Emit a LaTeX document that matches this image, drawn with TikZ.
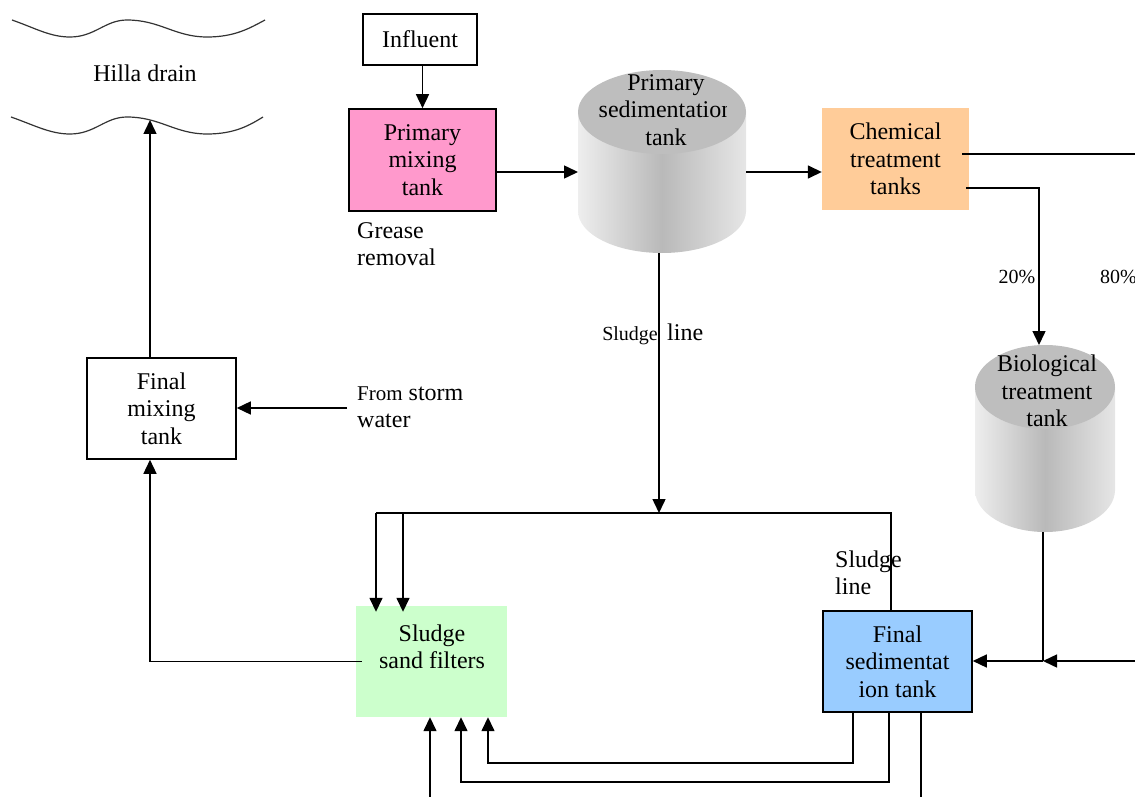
\documentclass[tikz,border=0pt]{standalone}
\usepackage{fontspec}
\setmainfont{Liberation Serif}
\usetikzlibrary{arrows.meta}
\definecolor{pinkfill}{HTML}{FF99CC}
\definecolor{orangefill}{HTML}{FFCC99}
\definecolor{greenfill}{HTML}{CCFFCC}
\definecolor{bluefill}{HTML}{99CCFF}
\definecolor{cyltop}{HTML}{BEBEBE}
\definecolor{cylL}{HTML}{EEEEEE}
\definecolor{cylM}{HTML}{B9B9B9}
\definecolor{cylR}{HTML}{E6E6E6}
\tikzset{
  every node/.style={font=\fontsize{24}{27.5}\selectfont, inner sep=0pt, align=center, text=black},
  boxed/.style={draw=black, line width=1.6pt, rectangle},
  plainbox/.style={rectangle},
  conn/.style={draw=black, line width=1.5pt},
  arr/.style={conn, -{Triangle[length=14pt,width=13pt]}},
  wave/.style={draw=black!80, line width=1.2pt},
  small/.style={font=\fontsize{20}{24}\selectfont},
  cylside/.style={left color=cylL, right color=cylR, middle color=cylM},
}
\begin{document}
\begin{tikzpicture}[x=1pt,y=-1pt]
\useasboundingbox (0,0) rectangle (1135,797);

% Hilla drain
\draw[wave] (12,20) .. controls (35,28) and (50,37) .. (70,37) .. controls (95,37) and (105,20) .. (127,20) .. controls (160,20) and (175,37) .. (207,37) .. controls (235,37) and (250,28) .. (265,20);
\draw[wave] (11,117) .. controls (34,125) and (50,134) .. (70,134) .. controls (95,134) and (105,117) .. (127,117) .. controls (160,117) and (175,134) .. (207,134) .. controls (235,134) and (250,125) .. (263,117);
\node (drainlabel) at (145,73) {Hilla drain};
\coordinate (drain) at (150,120);

% Boxes
\node[boxed, minimum width=114, minimum height=51] (influent) at (420,39.5) {Influent};
\node[boxed, fill=pinkfill, minimum width=147, minimum height=102] (pmix) at (422.5,160) {Primary\\mixing\\tank};
\node[plainbox, fill=orangefill, minimum width=147, minimum height=102] (chem) at (895.5,159) {Chemical\\treatment\\tanks};
\node[boxed, minimum width=149, minimum height=101] (fmix) at (161.5,408.5) {Final\\mixing\\tank};
\node[plainbox, fill=greenfill, minimum width=151, minimum height=111] (sand) at (431.5,661.5) {};
\node (sandtxt) at (432,647) {Sludge\\sand filters};
\node[boxed, fill=bluefill, minimum width=149, minimum height=101] (fsed) at (897.5,661.5) {Final\\sedimentat\\ion tank};

% Primary sedimentation tank (cylinder)
\shade[cylside] (578,112) rectangle (746,211);
\shade[cylside] (662,211) ellipse [x radius=84, y radius=42];
\fill[cyltop] (662,112) ellipse [x radius=84, y radius=42];
\begin{scope}
\clip (570,60) rectangle (726,165);
\node (psed) at (666,110) {Primary\\sedimentation\\tank};
\end{scope}
\coordinate (psedL) at (578,172);
\coordinate (psedR) at (746,172);
\coordinate (psedB) at (659,253);

% Biological treatment tank (cylinder)
\shade[cylside] (975,387) rectangle (1115,490);
\shade[cylside] (1045,490) ellipse [x radius=70, y radius=42];
\fill[cyltop] (1045,387) ellipse [x radius=70, y radius=42];
\node (bio) at (1047,391) {Biological\\treatment\\tank};
\coordinate (bioT) at (1039,345);
\coordinate (bioB) at (1043,532);

% Text labels
\node[anchor=west, align=left] (grease) at (357,244) {Grease\\removal};
\node[anchor=west, align=left] (storm) at (357,407) {{\fontsize{21}{27.5}\selectfont From} storm\\water};
\node[anchor=west, align=left] (sludgelbl) at (835,573) {Sludge\\line};
\node[small, anchor=base east] (sl1) at (658,340) {Sludge};
\node[anchor=base west] (sl2) at (667,340) {line};
\node[small] (p20) at (1017,277) {20\%};
\node[small, anchor=west] (p80) at (1100,277) {80\%};

% Connectors
\draw[arr] (pmix.north |- influent.south) -- (pmix.north);
\draw[arr] (pmix.east |- psedL) -- (psedL);
\draw[arr] (psedR) -- (chem.west |- psedR);
\coordinate (eR1) at (1135,154);
\draw[conn] ([xshift=-7pt]chem.east |- eR1) -- (eR1);
\draw[arr] ([xshift=-3pt,yshift=-29pt]chem.east) -| (bioT);

\coordinate (split) at (659,513);
\draw[arr] (psedB) -- (split);
\coordinate (tl1) at (376,513);
\coordinate (tl2) at (403,513);
\coordinate (tr) at (891,513);
\draw[conn] (fsed.north -| tr) -- (tr) -- (tl1);
\draw[arr] (tl1) -- ([yshift=-6pt]sand.north -| tl1);
\draw[arr] (tl2) -- ([yshift=-6pt]sand.north -| tl2);

\draw[arr] ([xshift=6pt]sand.west) -| ([xshift=-11.5pt]fmix.south);
\draw[arr] ([xshift=-11.5pt]fmix.north) -- (drain);
\coordinate (stormend) at (347,408);
\draw[arr] (stormend) -- (fmix.east |- stormend);

\coordinate (join) at (1043,661);
\coordinate (eR2) at (1135,661);
\draw[conn] (bioB) -- (join);
\draw[arr] (join) -- (fsed.east |- join);
\draw[arr] (eR2) -- (join);

\coordinate (b1) at (488,763);
\coordinate (b2) at (461,782);
\coordinate (b3) at (921,797);
\coordinate (b4) at (430,797);
\draw[arr] ([xshift=-44.5pt]fsed.south) |- (b1) -- (b1 |- sand.south);
\draw[arr] ([xshift=-8.5pt]fsed.south) |- (b2) -- (b2 |- sand.south);
\draw[conn] (fsed.south -| b3) -- (b3);
\draw[arr] (b4) -- (b4 |- sand.south);
\end{tikzpicture}
\end{document}
